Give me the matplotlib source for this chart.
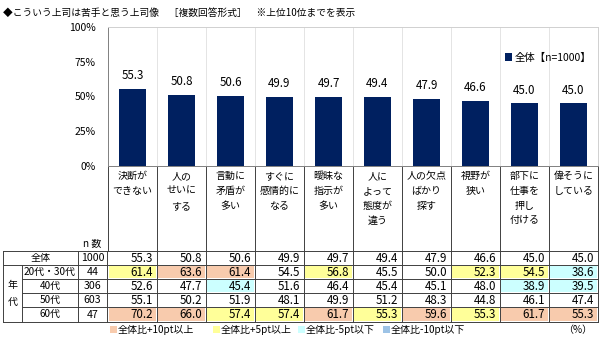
import matplotlib
matplotlib.use("Agg")
import matplotlib.pyplot as plt
from matplotlib.patches import Rectangle

plt.rcParams['font.family'] = ['Noto Sans CJK JP', 'DejaVu Sans']

# data
categories = ["決断が\nできない", "人の\nせいに\nする", "言動に\n矛盾が\n多い", "すぐに\n感情的に\nなる",
              "曖昧な\n指示が\n多い", "人に\nよって\n態度が\n違う", "人の欠点\nばかり\n探す",
              "視野が\n狭い", "部下に\n仕事を\n押し\n付ける", "偉そうに\nしている"]
total = [55.3, 50.8, 50.6, 49.9, 49.7, 49.4, 47.9, 46.6, 45.0, 45.0]
row_labels = ["20代・30代", "40代", "50代", "60代"]
row_n = [44, 306, 603, 47]
row_vals = [
    [61.4, 63.6, 61.4, 54.5, 56.8, 45.5, 50.0, 52.3, 54.5, 38.6],
    [52.6, 47.7, 45.4, 51.6, 46.4, 45.4, 45.1, 48.0, 38.9, 39.5],
    [55.1, 50.2, 51.9, 48.1, 49.9, 51.2, 48.3, 44.8, 46.1, 47.4],
    [70.2, 66.0, 57.4, 57.4, 61.7, 55.3, 59.6, 55.3, 61.7, 55.3],
]
total_n = 1000
legend_labels = ["全体比+10pt以上", "全体比+5pt以上", "全体比-5pt以下", "全体比-10pt以下"]
legend_colors = ["#F8CBAD", "#FFFF99", "#CCFFFF", "#9DC3E6"]

W, H = 600, 338
fig = plt.figure(figsize=(W / 100, H / 100), dpi=100)

# pixel layout
x0, colw = 108, 49
top, base = 27, 166
num_fs = 8.3

ax = fig.add_axes([x0 / W, 1 - base / H, 10 * colw / W, (base - top) / H])
xs = [i + 0.5 for i in range(len(total))]
ax.bar(xs, total, width=0.57, color="#002060", label="全体【n=1000】", zorder=3)
for x, v in zip(xs, total):
    ax.text(x, v + 5, f"{v:.1f}", ha="center", va="bottom", fontsize=num_fs)
ax.set_xlim(0, 10)
ax.set_ylim(0, 100)
ax.set_yticks([0, 25, 50, 75, 100])
ax.set_yticklabels(["0%", "25%", "50%", "75%", "100%"], fontsize=7.5)
ax.tick_params(axis="y", length=0, pad=9)
ax.set_xticks([])
for i in range(1, 10):
    ax.axvline(i, color="#E4E4E4", lw=0.7, zorder=1)
for s in ax.spines.values():
    s.set_color("#D0D0D0")
    s.set_linewidth(0.7)
ax.spines["left"].set_color("#808080")
ax.spines["bottom"].set_color("#808080")
ax.legend(loc="upper right", bbox_to_anchor=(1.0, 0.86), frameon=False, fontsize=7.5,
          handlelength=0.7, handleheight=0.7, handletextpad=0.3, borderaxespad=0.2)

# table / text layer in pixel coordinates
tx = fig.add_axes([0, 0, 1, 1])
tx.set_xlim(0, W)
tx.set_ylim(H, 0)
tx.axis("off")

fig.text(3 / W, 1 - 13 / H, "◆こういう上司は苦手と思う上司像　［複数回答形式］　※上位10位までを表示",
         fontsize=7, va="center", ha="left")

lc = "#404040"
lw = 0.7
# header with category labels
hdr_top, hdr_bot = 167, 251
xr = x0 + 10 * colw
for i in range(11):
    tx.plot([x0 + i * colw] * 2, [hdr_top, hdr_bot], color=lc, lw=lw)
for i, c in enumerate(categories):
    tx.text(x0 + (i + 0.5) * colw, hdr_top + 4, c, ha="center", va="top", fontsize=7.2, linespacing=1.6)
tx.text(92, 244, "n 数", ha="center", va="center", fontsize=7.2)

# rows
row_y = [251, 265, 279, 293, 307, 322]
cols = [3, 22, 78, 107]


def cell_color(v, ref):
    d = v - ref
    if d >= 10:
        return legend_colors[0]
    if d >= 5:
        return legend_colors[1]
    if d <= -10:
        return legend_colors[3]
    if d <= -5:
        return legend_colors[2]
    return None


all_rows = [total] + row_vals
for r, vals in enumerate(all_rows):
    y1, y2 = row_y[r], row_y[r + 1]
    for i, v in enumerate(vals):
        col = cell_color(v, total[i]) if r > 0 else None
        if col:
            tx.add_patch(Rectangle((x0 + i * colw + 1, y1 + 1), colw - 2, y2 - y1 - 2,
                                   facecolor=col, edgecolor="none"))
        tx.text(x0 + (i + 1) * colw - 4, (y1 + y2) / 2, f"{v:.1f}", ha="right", va="center", fontsize=num_fs)

n_fs = 7.6
tx.text((cols[0] + cols[2]) / 2, (row_y[0] + row_y[1]) / 2, "全体", ha="center", va="center", fontsize=7.2)
tx.text((cols[2] + cols[3]) / 2, (row_y[0] + row_y[1]) / 2, str(total_n), ha="center", va="center", fontsize=n_fs)
for r, (lab, n) in enumerate(zip(row_labels, row_n)):
    yc = (row_y[r + 1] + row_y[r + 2]) / 2
    tx.text((cols[1] + cols[2]) / 2, yc, lab, ha="center", va="center", fontsize=7.2)
    tx.text((cols[2] + cols[3]) / 2, yc, str(n), ha="center", va="center", fontsize=n_fs)
tx.text((cols[0] + cols[1]) / 2, (row_y[1] + row_y[5]) / 2, "年\n代", ha="center", va="center",
        fontsize=7.2, linespacing=1.8)

# grid lines of table
for k, y in enumerate(row_y):
    xs_start = cols[1] if k in (2, 3, 4) else cols[0]
    tx.plot([xs_start, xr], [y, y], color=lc, lw=lw)
for x in [cols[0]] + cols[2:] + [x0 + i * colw for i in range(1, 11)]:
    tx.plot([x, x], [row_y[0], row_y[-1]], color=lc, lw=lw)
tx.plot([cols[1]] * 2, [row_y[1], row_y[-1]], color=lc, lw=lw)

# color legend
leg_x = [110, 213, 298, 383]
for lx, lab, col in zip(leg_x, legend_labels, legend_colors):
    tx.add_patch(Rectangle((lx, 326), 7, 7, facecolor=col, edgecolor="none"))
    tx.text(lx + 8, 330, lab, ha="left", va="center", fontsize=7.2)
tx.text(592, 330, "（%）", ha="right", va="center", fontsize=7.2)

fig.savefig("out.png", dpi=100)
